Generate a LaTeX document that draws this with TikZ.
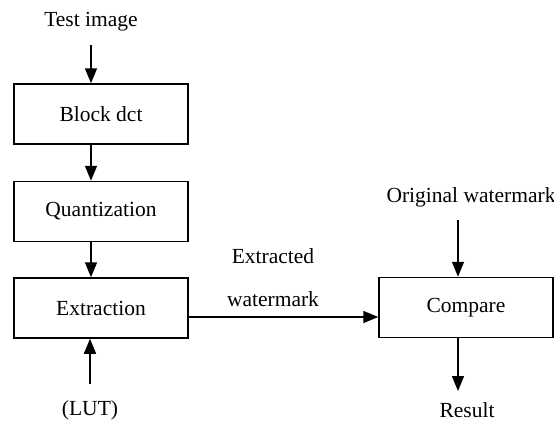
\documentclass[tikz,border=0pt]{standalone}
\usepackage{fontspec}
\setmainfont{Liberation Serif}
\usetikzlibrary{arrows.meta}
\begin{document}
\begin{tikzpicture}[x=1pt,y=-1pt,
  stage/.style={draw,line width=1.5pt,minimum width=174pt,minimum height=60pt,inner sep=0pt},
  lbl/.style={inner sep=0pt},
  flow/.style={line width=1.5pt,-{Triangle[length=15pt,width=12pt]}},
  every node/.style={font=\fontsize{21.5}{26}\selectfont}]
\useasboundingbox (0,0) rectangle (554,421);
% left column
\node[lbl] (test) at (91,22) {Test image};
\node[stage] (dct) at (101,114) {Block dct};
\node[stage] (quant) at (101,211.5) {Quantization};
\node[stage] (extr) at (101,308) {Extraction};
\node[lbl] (lut) at (90,410) {(LUT)};
\coordinate (testend) at (91,45);
\coordinate (lutend) at (90,384);
% right column
\node[stage] (cmp) at (466,307.5) {Compare};
\node[lbl] (orig) at (471,197) {Original watermark};
\node[lbl] (res) at (467,410) {Result};
\coordinate (origend) at (458,220);
\coordinate (resend) at (458,391);
% edge labels
\node[lbl] (ex1) at (273,256) {Extracted};
\node[lbl] (ex2) at (273,299) {watermark};
% connectors
\draw[flow] (testend) -- (testend |- dct.north);
\draw[flow] (testend |- dct.south) -- (testend |- quant.north);
\draw[flow] (testend |- quant.south) -- (testend |- extr.north);
\draw[flow] (lutend) -- (lutend |- extr.south);
\draw[flow] (extr.east |- 0,317) -- (cmp.west |- 0,317);
\draw[flow] (origend) -- (origend |- cmp.north);
\draw[flow] (origend |- cmp.south) -- (resend);
\end{tikzpicture}
\end{document}
